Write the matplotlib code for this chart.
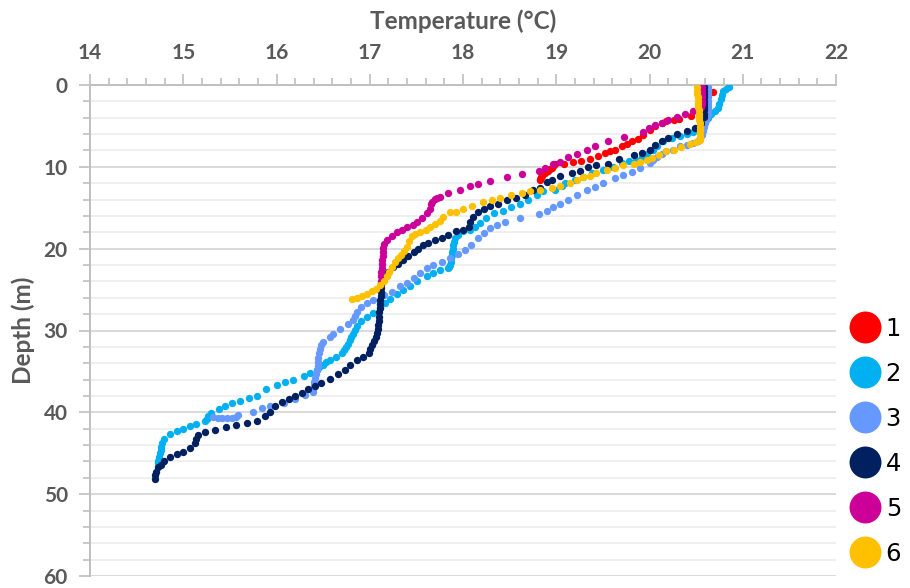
import matplotlib.pyplot as plt
from matplotlib.lines import Line2D
from matplotlib.ticker import MultipleLocator

# profile 1
temp_1 = [20.68, 20.56, 20.56, 20.56, 20.54, 20.45, 20.32, 20.26, 20.18, 20.13, 20.06, 20.01,
          19.93, 19.88, 19.81, 19.76, 19.70, 19.63, 19.58, 19.52, 19.45, 19.36, 19.27, 19.18,
          19.08, 18.99, 18.97, 18.95, 18.93, 18.91, 18.88, 18.86, 18.85, 18.84, 18.83, 18.83]
depth_1 = [0.8, 1.5, 2.2, 2.9, 3.4, 3.8, 4.2, 4.3, 4.4, 4.7, 5.0, 5.5,
           6.1, 6.6, 6.8, 7.2, 7.5, 7.9, 8.1, 8.3, 8.7, 9.0, 9.3, 9.4,
           9.6, 9.7, 9.9, 10.1, 10.3, 10.5, 10.7, 10.9, 11.1, 11.3, 11.5, 11.6]

# profile 2
temp_2 = [20.85, 20.82, 20.79, 20.78, 20.77, 20.75, 20.73, 20.70, 20.66, 20.63, 20.60, 20.57,
          20.52, 20.47, 20.40, 20.33, 20.24, 20.15, 20.08, 20.04, 19.97, 19.92, 19.86, 19.78,
          19.70, 19.61, 19.50, 19.38, 19.29, 19.20, 19.09, 19.06, 18.99, 18.86, 18.79, 18.70,
          18.61, 18.52, 18.43, 18.33, 18.25, 18.18, 18.13, 18.08, 18.00, 17.95, 17.91, 17.90,
          17.89, 17.89, 17.88, 17.88, 17.87, 17.87, 17.86, 17.85, 17.84, 17.75, 17.68, 17.61,
          17.51, 17.43, 17.36, 17.29, 17.22, 17.16, 17.11, 17.04, 16.97, 16.91, 16.86, 16.84,
          16.82, 16.80, 16.79, 16.77, 16.75, 16.72, 16.70, 16.64, 16.57, 16.53, 16.50, 16.46,
          16.43, 16.36, 16.29, 16.18, 16.09, 16.00, 15.89, 15.79, 15.70, 15.61, 15.52, 15.45,
          15.38, 15.30, 15.27, 15.25, 15.23, 15.14, 15.07, 15.00, 14.93, 14.86, 14.79, 14.77,
          14.76, 14.76, 14.75, 14.74, 14.74, 14.73, 14.73]
depth_2 = [0.3, 0.5, 0.7, 1.2, 1.7, 2.3, 2.8, 3.2, 3.6, 4.0, 4.5, 5.0,
           5.4, 5.7, 6.0, 6.2, 6.5, 6.9, 7.4, 7.9, 8.4, 8.8, 9.2, 9.3,
           9.5, 10.0, 10.4, 10.8, 11.2, 11.6, 12.0, 12.4, 12.8, 13.0, 13.4, 14.1,
           14.5, 14.9, 15.4, 15.6, 16.3, 16.9, 17.3, 17.7, 17.9, 18.3, 18.7, 19.2,
           19.6, 20.0, 20.4, 20.8, 21.2, 21.6, 22.0, 22.2, 22.4, 22.6, 23.0, 23.4,
           24.0, 24.6, 25.1, 25.5, 26.1, 26.7, 27.3, 27.9, 28.3, 28.9, 29.5, 29.9,
           30.4, 30.8, 31.2, 31.6, 32.0, 32.4, 32.8, 33.2, 33.6, 33.9, 34.2, 34.5,
           34.8, 35.2, 35.6, 36.0, 36.3, 36.7, 37.2, 38.0, 38.3, 38.6, 38.9, 39.2,
           39.6, 40.1, 40.5, 40.8, 41.0, 41.4, 41.7, 42.0, 42.3, 42.6, 43.2, 43.7,
           44.2, 44.6, 45.0, 45.4, 45.8, 46.0, 46.2]

# profile 3
temp_3 = [20.63, 20.63, 20.63, 20.63, 20.63, 20.63, 20.63, 20.63, 20.63, 20.62, 20.61, 20.60,
          20.58, 20.57, 20.56, 20.54, 20.52, 20.47, 20.40, 20.33, 20.25, 20.18, 20.13, 20.08,
          20.04, 20.01, 19.90, 19.81, 19.72, 19.63, 19.50, 19.42, 19.33, 19.22, 19.13, 19.04,
          18.97, 18.90, 18.81, 18.61, 18.45, 18.36, 18.29, 18.22, 18.16, 18.09, 18.02, 17.95,
          17.86, 17.77, 17.68, 17.61, 17.54, 17.47, 17.40, 17.32, 17.24, 17.15, 17.04, 16.97,
          16.91, 16.86, 16.84, 16.82, 16.77, 16.68, 16.61, 16.57, 16.50, 16.48, 16.47, 16.46,
          16.45, 16.45, 16.44, 16.43, 16.42, 16.41, 16.40, 16.40, 16.39, 16.39, 16.31, 16.20,
          16.08, 15.93, 15.84, 15.75, 15.59, 15.57, 15.52, 15.47, 15.42, 15.37, 15.32]
depth_3 = [0.3, 0.7, 1.1, 1.5, 1.9, 2.3, 2.7, 3.1, 3.5, 3.9, 4.3, 4.7,
           5.1, 5.6, 6.1, 6.5, 6.9, 7.1, 7.3, 7.5, 7.9, 8.1, 8.4, 8.8,
           9.2, 9.5, 10.2, 10.6, 11.0, 11.4, 12.0, 12.5, 12.8, 13.4, 14.0, 14.5,
           14.9, 15.4, 15.8, 16.2, 16.7, 17.1, 17.5, 18.1, 18.7, 19.6, 20.2, 20.6,
           21.2, 21.6, 22.0, 22.4, 23.0, 23.6, 24.2, 24.6, 25.3, 25.7, 26.3, 26.6,
           27.1, 27.8, 28.2, 28.7, 29.2, 29.8, 30.4, 30.8, 31.4, 31.8, 32.2, 32.8,
           33.4, 33.8, 34.3, 34.8, 35.3, 35.8, 36.3, 36.7, 37.1, 37.5, 37.9, 38.4,
           38.8, 39.2, 39.5, 39.9, 40.3, 40.6, 40.7, 40.7, 40.7, 40.7, 40.6]

# profile 4
temp_4 = [20.58, 20.58, 20.58, 20.58, 20.58, 20.58, 20.58, 20.58, 20.58, 20.58, 20.55, 20.49,
          20.40, 20.29, 20.20, 20.13, 20.06, 20.01, 19.92, 19.83, 19.67, 19.56, 19.43, 19.34,
          19.25, 19.17, 19.04, 18.95, 18.90, 18.83, 18.75, 18.66, 18.57, 18.47, 18.38, 18.29,
          18.22, 18.16, 18.11, 18.08, 18.06, 18.00, 17.93, 17.84, 17.77, 17.70, 17.63, 17.57,
          17.52, 17.47, 17.41, 17.36, 17.30, 17.25, 17.20, 17.16, 17.13, 17.12, 17.12, 17.12,
          17.12, 17.11, 17.11, 17.11, 17.10, 17.10, 17.10, 17.09, 17.09, 17.08, 17.07, 17.05,
          17.02, 17.00, 16.99, 16.93, 16.86, 16.79, 16.73, 16.66, 16.57, 16.48, 16.41, 16.34,
          16.27, 16.20, 16.13, 16.06, 15.98, 15.93, 15.88, 15.79, 15.68, 15.57, 15.46, 15.34,
          15.23, 15.16, 15.14, 15.13, 15.07, 15.00, 14.93, 14.86, 14.79, 14.76, 14.73, 14.71,
          14.70, 14.70]
depth_4 = [0.3, 0.7, 1.1, 1.5, 1.9, 2.3, 2.7, 3.1, 3.5, 3.9, 4.6, 5.2,
           5.6, 6.0, 6.5, 6.9, 7.3, 7.9, 8.3, 8.6, 9.1, 9.6, 9.8, 10.0,
           10.5, 10.8, 11.1, 11.6, 11.9, 12.6, 12.8, 13.4, 13.8, 14.1, 14.5, 14.8,
           15.2, 15.5, 16.1, 16.7, 17.3, 17.7, 17.9, 18.3, 18.7, 19.0, 19.3, 19.6,
           20.0, 20.4, 20.9, 21.4, 21.9, 22.3, 22.8, 23.2, 23.8, 24.3, 24.8, 25.3,
           25.8, 26.3, 26.8, 27.3, 27.8, 28.3, 28.8, 29.3, 29.8, 30.3, 30.8, 31.3,
           31.8, 32.3, 32.8, 33.2, 33.6, 34.2, 34.8, 35.3, 35.9, 36.4, 36.8, 37.2,
           37.6, 38.0, 38.4, 38.7, 39.2, 39.9, 40.5, 41.0, 41.3, 41.6, 41.8, 42.1,
           42.4, 42.8, 43.3, 43.8, 44.4, 44.8, 45.1, 45.4, 46.0, 46.4, 46.7, 47.3,
           47.7, 48.1]

# profile 5
temp_5 = [20.56, 20.56, 20.56, 20.56, 20.56, 20.56, 20.55, 20.53, 20.47, 20.38, 20.29, 20.20,
          20.13, 20.06, 19.99, 19.93, 19.73, 19.56, 19.42, 19.33, 19.22, 19.13, 19.04, 18.97,
          18.88, 18.81, 18.63, 18.47, 18.29, 18.16, 18.08, 17.97, 17.84, 17.75, 17.72, 17.70,
          17.67, 17.66, 17.65, 17.61, 17.56, 17.51, 17.46, 17.40, 17.35, 17.29, 17.24, 17.19,
          17.15, 17.14, 17.14, 17.14, 17.13, 17.13, 17.13, 17.12, 17.12, 17.12, 17.12]
depth_5 = [0.3, 0.7, 1.1, 1.5, 1.9, 2.3, 2.7, 3.0, 3.2, 3.5, 3.9, 4.3,
           4.6, 4.9, 5.3, 5.7, 6.3, 6.8, 7.5, 8.0, 8.4, 8.8, 9.4, 9.7,
           10.1, 10.5, 10.9, 11.3, 11.7, 12.1, 12.4, 12.8, 13.2, 13.7, 13.8, 13.9,
           14.3, 14.6, 15.1, 15.7, 16.2, 16.7, 17.1, 17.4, 17.7, 18.0, 18.5, 18.9,
           19.4, 19.9, 20.4, 20.9, 21.4, 21.9, 22.4, 22.9, 23.4, 23.9, 24.2]

# profile 6
temp_6 = [20.51, 20.51, 20.51, 20.52, 20.52, 20.52, 20.52, 20.53, 20.53, 20.53, 20.53, 20.54,
          20.54, 20.54, 20.54, 20.54, 20.54, 20.50, 20.43, 20.34, 20.26, 20.18, 20.10, 20.03,
          19.97, 19.90, 19.83, 19.72, 19.63, 19.54, 19.43, 19.36, 19.29, 19.22, 19.15, 19.04,
          18.95, 18.83, 18.72, 18.63, 18.52, 18.40, 18.31, 18.21, 18.10, 18.00, 17.92, 17.86,
          17.79, 17.75, 17.70, 17.65, 17.60, 17.54, 17.49, 17.45, 17.42, 17.40, 17.37, 17.34,
          17.30, 17.27, 17.24, 17.21, 17.18, 17.15, 17.11, 17.07, 17.02, 16.97, 16.92, 16.86,
          16.81]
depth_6 = [0.3, 0.7, 1.1, 1.5, 1.9, 2.3, 2.7, 3.1, 3.5, 3.9, 4.3, 4.7,
           5.1, 5.5, 5.9, 6.3, 6.7, 7.0, 7.2, 7.6, 7.9, 8.1, 8.6, 8.9,
           9.2, 9.4, 9.6, 9.8, 10.1, 10.4, 10.8, 11.1, 11.3, 11.6, 12.0, 12.3,
           12.6, 12.8, 13.0, 13.2, 13.5, 13.8, 14.0, 14.3, 14.8, 15.2, 15.5, 15.5,
           16.1, 16.6, 17.0, 17.4, 17.7, 18.0, 18.2, 18.5, 19.1, 19.8, 20.3, 20.8,
           21.2, 21.6, 22.2, 22.8, 23.4, 24.0, 24.5, 24.9, 25.2, 25.5, 25.8, 26.0,
           26.1]

labels = ['1', '2', '3', '4', '5', '6']
colors = ['#FF0000', '#00B0F0', '#6699FF', '#002060', '#CC0099', '#FFC000']

temps = [temp_1, temp_2, temp_3, temp_4, temp_5, temp_6]
depths = [depth_1, depth_2, depth_3, depth_4, depth_5, depth_6]

plt.rcParams['font.family'] = ['Lato', 'DejaVu Sans']
axis_grey = '#BFBFBF'
text_grey = '#595959'

fig = plt.figure(figsize=(9.1, 5.88), dpi=100)
ax = fig.add_axes([90 / 910, 12 / 588, 746 / 910, 491 / 588])

for t, d, c in zip(temps, depths, colors):
    ax.scatter(t, d, s=28, color=c, linewidths=0, zorder=3)

ax.set_xlim(14, 22)
ax.set_ylim(60, 0)
ax.xaxis.tick_top()
ax.xaxis.set_label_position('top')
ax.xaxis.set_major_locator(MultipleLocator(1))
ax.xaxis.set_minor_locator(MultipleLocator(0.2))
ax.yaxis.set_major_locator(MultipleLocator(10))
ax.yaxis.set_minor_locator(MultipleLocator(2))

ax.yaxis.grid(True, which='major', color='#D9D9D9', lw=1.4)
ax.yaxis.grid(True, which='minor', color='#EFEFEF', lw=1.4)
ax.set_axisbelow(True)

for side in ['right', 'bottom']:
    ax.spines[side].set_visible(False)
for side in ['top', 'left']:
    ax.spines[side].set_color(axis_grey)
    ax.spines[side].set_linewidth(1.4)

ax.tick_params(which='major', direction='out', length=8, width=1.2, color=axis_grey,
               labelsize=15, labelcolor=text_grey)
ax.tick_params(which='minor', direction='out', length=5, width=1.2, color=axis_grey)
ax.tick_params(axis='x', which='major', pad=8)
ax.tick_params(axis='y', which='major', pad=8)
for lbl in ax.get_xticklabels() + ax.get_yticklabels():
    lbl.set_fontweight('bold')

ax.set_xlabel('Temperature (°C)', fontsize=17.5, fontweight='bold', color=text_grey, labelpad=10)
ax.set_ylabel('Depth (m)', fontsize=17.5, fontweight='bold', color=text_grey, labelpad=6)

handles = [Line2D([], [], ls='', marker='o', markersize=23, color=c, markeredgewidth=0)
           for c in colors]
ax.legend(handles, labels, loc='upper left', bbox_to_anchor=(848 / 910, 1 - 317 / 588),
          bbox_transform=fig.transFigure, frameon=False, borderaxespad=0, borderpad=0,
          handlelength=1.4, handletextpad=0.15, labelspacing=0.86,
          prop={'family': 'DejaVu Sans', 'size': 17.5})

fig.savefig('out.png', dpi=100)
